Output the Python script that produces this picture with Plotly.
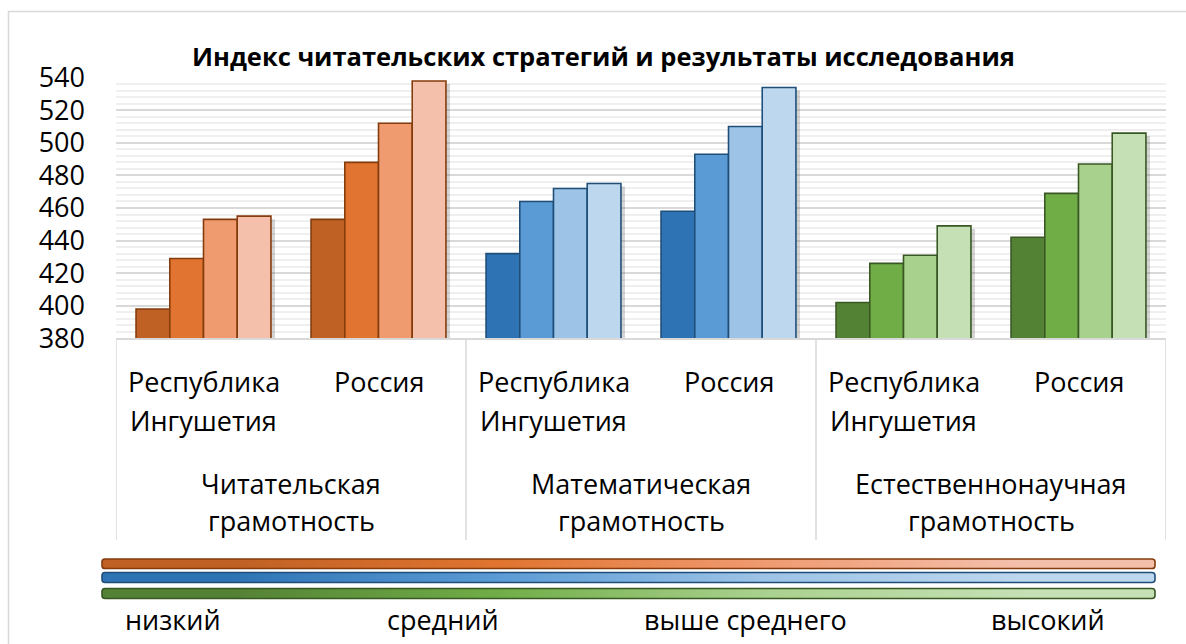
import plotly.graph_objects as go

# ---------------- data ----------------
domains = ["Читательская грамотность", "Математическая грамотность", "Естественнонаучная грамотность"]
regions = ["Республика Ингушетия", "Россия"]
levels = ["низкий", "средний", "выше среднего", "высокий"]

low = [398, 453, 432, 458, 402, 442]
mid = [429, 488, 464, 493, 426, 469]
above = [453, 512, 472, 510, 431, 487]
high = [455, 538, 475, 534, 449, 506]
series = [low, mid, above, high]

title = "Индекс читательских стратегий и результаты исследования"

# ---------------- styles ----------------
palette = {
    domains[0]: ["#BF6125", "#E07430", "#F09A70", "#F4C0AC"],
    domains[1]: ["#2E74B5", "#5B9BD5", "#9DC3E6", "#BDD7EE"],
    domains[2]: ["#548235", "#70AD47", "#A9D18E", "#C5E0B4"],
}
outline = {domains[0]: "#843C0C", domains[1]: "#1F4E79", domains[2]: "#385723"}

FONT = "Open Sans"
W, H = 1186, 644
PX_L, PX_R = 116, 1166
PX_T, PX_B = 77.7, 338.3
YMIN, YMAX = 380, 540

cats = [f"{d} | {r}" for d in domains for r in regions]
cat_domain = [d for d in domains for r in regions]
cat_region = [r for d in domains for r in regions]

xdom = [PX_L / W, PX_R / W]
ydom = [(H - PX_B) / H, (H - PX_T) / H]
px_per_cat = (PX_R - PX_L) / len(cats)
units_per_px = (YMAX - YMIN) / (PX_B - PX_T)
sdx, sdy = 4, 3  # shadow offset in px

fig = go.Figure()

# shadows (base axes, shifted)
for i, lvl in enumerate(levels):
    fig.add_trace(go.Bar(
        x=cats, y=series[i], name=lvl, offsetgroup=lvl,
        marker=dict(color="rgba(60,60,60,0.22)", line=dict(width=0)),
        xaxis="x", yaxis="y", showlegend=False, hoverinfo="skip",
    ))

# main bars
for i, lvl in enumerate(levels):
    fig.add_trace(go.Bar(
        x=cats, y=series[i], name=lvl, offsetgroup=lvl,
        marker=dict(color=[palette[d][i] for d in cat_domain],
                    line=dict(color=[outline[d] for d in cat_domain], width=1.6)),
        xaxis="x2", yaxis="y2", showlegend=False,
    ))

# gradient strips (one per domain)
strip_px = [(559, 568.5), (572.5, 582.5), (588.5, 598.5)]
yaxes_strip = ["y3", "y4", "y5"]
for k, d in enumerate(domains):
    cs = [[j / 3, c] for j, c in enumerate(palette[d])]
    fig.add_trace(go.Heatmap(
        x=levels, y=[d], z=[[0, 1, 2, 3]], zmin=0, zmax=3,
        colorscale=cs, zsmooth="best", showscale=False,
        xaxis="x3", yaxis=yaxes_strip[k], hoverinfo="skip",
    ))

layout_axes = dict(
    xaxis=dict(domain=xdom, type="category", categoryarray=cats,
               range=[-0.5 - sdx / px_per_cat, len(cats) - 0.5 - sdx / px_per_cat],
               visible=False, anchor="y"),
    yaxis=dict(domain=ydom, range=[YMIN + sdy * units_per_px, YMAX + sdy * units_per_px],
               visible=False, anchor="x"),
    xaxis2=dict(domain=xdom, type="category", categoryarray=cats, overlaying="x",
                range=[-0.5, len(cats) - 0.5], showticklabels=False, showgrid=False,
                showline=True, linecolor="#D9D9D9", linewidth=1.5, anchor="y2",
                zeroline=False),
    yaxis2=dict(domain=ydom, overlaying="y", range=[YMIN, YMAX], tick0=YMIN, dtick=20,
                showgrid=True, gridcolor="#D9D9D9", gridwidth=1.5,
                minor=dict(dtick=4, tick0=YMIN, showgrid=True, gridcolor="#EFEFEF", gridwidth=1.5),
                tickfont=dict(family=FONT, size=27, color="#000000"),
                ticklabelstandoff=30, zeroline=False, showline=False, anchor="x2",
                automargin=False),
    xaxis3=dict(domain=[102 / W, 1155 / W], visible=False, range=[-0.5, 3.5],
                type="category", anchor="y3", fixedrange=True),
)
for k, ya in enumerate(yaxes_strip):
    t, b = strip_px[k]
    layout_axes["yaxis" + ya[1:]] = dict(domain=[(H - b) / H, (H - t) / H], visible=False,
                                         anchor="x3", fixedrange=True)

shapes = []
# outer frame
shapes.append(dict(type="rect", xref="paper", yref="paper", x0=8.5 / W, x1=1.02,
                   y0=-0.02, y1=(H - 11.5) / H, line=dict(color="#D9D9D9", width=1.5)))
# category separators
for xv in [-0.5, 1.5, 3.5, 5.5]:
    shapes.append(dict(type="line", xref="x2", yref="paper", x0=xv, x1=xv,
                       y0=(H - 339) / H, y1=(H - 540) / H,
                       line=dict(color="#D9D9D9", width=1.5)))
# strip outlines (rounded)
for k, d in enumerate(domains):
    ya = yaxes_strip[k]
    rx, ry = 0.003, 0.3
    path = (f"M {rx},0 L {1-rx},0 Q 1,0 1,{ry} L 1,{1-ry} Q 1,1 {1-rx},1 "
            f"L {rx},1 Q 0,1 0,{1-ry} L 0,{ry} Q 0,0 {rx},0 Z")
    shapes.append(dict(type="path", xref="x3 domain", yref=f"{ya} domain", path=path,
                       line=dict(color=outline[d], width=1.6)))

annotations = []
annotations.append(dict(text=f"<b>{title}</b>", xref="paper", yref="paper",
                        x=604 / W, y=(H - 56) / H, showarrow=False,
                        xanchor="center", yanchor="middle",
                        font=dict(family=FONT, size=25.5, color="#000000")))
label_font = dict(family=FONT, size=27, color="#000000")
line_y = [381, 420]
for j, c in enumerate(cats):
    for li, word in enumerate(cat_region[j].split(" ")):
        annotations.append(dict(text=word, xref="x2", yref="paper", x=j, y=(H - line_y[li]) / H,
                                showarrow=False, xanchor="center", yanchor="middle",
                                font=label_font))
grp_y = [483, 520]
for k, d in enumerate(domains):
    for li, word in enumerate(d.split(" ")):
        annotations.append(dict(text=word, xref="x2", yref="paper", x=2 * k + 0.5,
                                y=(H - grp_y[li]) / H, showarrow=False,
                                xanchor="center", yanchor="middle", font=label_font))
level_x = [173, 443, 745, 1048]
for lv, xp in zip(levels, level_x):
    annotations.append(dict(text=lv, xref="paper", yref="paper", x=xp / W, y=(H - 619) / H,
                            showarrow=False, xanchor="center", yanchor="middle",
                            font=label_font))

fig.update_layout(
    width=W, height=H, margin=dict(l=0, r=0, t=0, b=0, pad=0, autoexpand=False),
    paper_bgcolor="white", plot_bgcolor="white",
    barmode="group", bargap=0.229, bargroupgap=0,
    showlegend=False, shapes=shapes, annotations=annotations,
    **layout_axes,
)

fig.write_html("out.html", post_script="document.body.style.margin='0';",
               config={"displayModeBar": False})
